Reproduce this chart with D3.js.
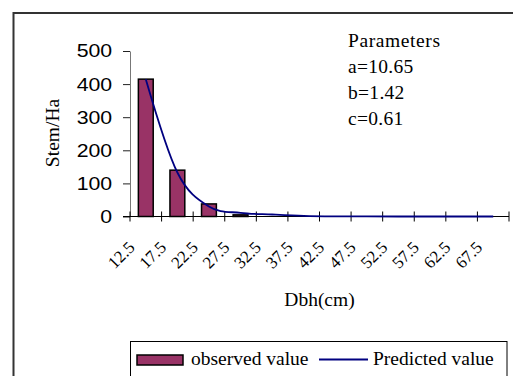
<!DOCTYPE html>
<html>
<head>
<meta charset="utf-8">
<script src="https://cdn.jsdelivr.net/npm/d3@7/dist/d3.min.js"></script>
<style>
  body { margin: 0; background: #fff; }
  svg { display: block; }
</style>
</head>
<body>
<div id="chart"></div>
<script>
// Dbh classes (cm)
const categories = ['12.5', '17.5', '22.5', '27.5', '32.5', '37.5', '42.5', '47.5', '52.5', '57.5', '62.5', '67.5'];
// stems per ha
const observed = [415, 140, 38, 5, 0, 0, 0, 0, 0, 0, 0, 0];
const predicted = [415, 133, 30, 11, 6, 2, 0.5, 0.2, 0, 0, 0, 0];
const yTicks = [0, 100, 200, 300, 400, 500];
const paramLines = ['Parameters', 'a=10.65', 'b=1.42', 'c=0.61'];

const W = 513;
const H = 376;
const serif = '"Liberation Serif", "Times New Roman", serif';
const sans = '"Liberation Sans", Arial, sans-serif';

const svg = d3.select('#chart').append('svg')
  .attr('width', W)
  .attr('height', H);

// outer chart frame (runs off the right and bottom)
svg.append('rect')
  .attr('x', 13.5).attr('y', 13)
  .attr('width', 530).attr('height', 420)
  .attr('fill', 'none')
  .attr('stroke', '#333')
  .attr('stroke-width', 2);

const x = d3.scaleBand()
  .domain(categories)
  .range([130, 509])
  .padding(0);

const y = d3.scaleLinear()
  .domain([0, 500])
  .range([216.5, 51]);

const barW = x.bandwidth() * 0.47;

// bars
svg.selectAll('.bar')
  .data(categories)
  .enter().append('rect')
  .attr('class', 'bar')
  .attr('x', (d) => x(d) + (x.bandwidth() - barW) / 2)
  .attr('y', (d, i) => y(observed[i]))
  .attr('width', barW)
  .attr('height', (d, i) => y(0) - y(observed[i]))
  .attr('fill', '#993366')
  .attr('stroke', '#000')
  .attr('stroke-width', 1.5);

// y axis
const yAxis = svg.append('g')
  .attr('transform', 'translate(130,0)')
  .call(d3.axisLeft(y).tickValues(yTicks).tickSize(7).tickSizeOuter(0));
yAxis.select('.domain').attr('stroke', '#777');
yAxis.selectAll('.tick line').attr('stroke', '#222');
yAxis.selectAll('.tick text')
  .attr('x', -15.5)
  .attr('transform', 'scale(1.15,1)')
  .attr('font-family', sans)
  .attr('font-size', '18.5px')
  .attr('fill', '#000');

// x axis (ticks crossing the line, between categories)
const x0 = y(0);
svg.append('line')
  .attr('x1', 123).attr('x2', x.range()[1])
  .attr('y1', x0).attr('y2', x0)
  .attr('stroke', '#000');
svg.selectAll('.xtick')
  .data(d3.range(categories.length + 1))
  .enter().append('line')
  .attr('class', 'xtick')
  .attr('x1', (i) => x.range()[0] + i * x.step())
  .attr('x2', (i) => x.range()[0] + i * x.step())
  .attr('y1', x0 - 5).attr('y2', x0 + 5)
  .attr('stroke', '#000');

svg.selectAll('.xlabel')
  .data(categories)
  .enter().append('text')
  .attr('class', 'xlabel')
  .attr('transform', (d) => `translate(${x(d) + x.bandwidth() / 2 - 10},${x0 + 32}) rotate(-45)`)
  .attr('text-anchor', 'end')
  .attr('font-family', serif)
  .attr('font-size', '17px')
  .text((d) => d);

// predicted curve (smoothed like the spreadsheet line)
const line = d3.line()
  .x((d, i) => x(categories[i]) + x.bandwidth() / 2)
  .y((d) => y(d))
  .curve(d3.curveCardinal);

svg.append('path')
  .datum(predicted)
  .attr('d', line)
  .attr('fill', 'none')
  .attr('stroke', '#000080')
  .attr('stroke-width', 1.8);

// axis titles
svg.append('text')
  .attr('x', 319.5).attr('y', 306)
  .attr('text-anchor', 'middle')
  .attr('font-family', serif)
  .attr('font-size', '19.5px')
  .text('Dbh(cm)');

svg.append('text')
  .attr('transform', 'translate(59,133) rotate(-90)')
  .attr('text-anchor', 'middle')
  .attr('font-family', serif)
  .attr('font-size', '19.5px')
  .text('Stem/Ha');

// parameters box
svg.selectAll('.param')
  .data(paramLines)
  .enter().append('text')
  .attr('class', 'param')
  .attr('x', 348)
  .attr('y', (d, i) => 47 + i * 26)
  .attr('font-family', serif)
  .attr('font-size', '19.5px')
  .attr('letter-spacing', (d, i) => (i === 0 ? '0.6px' : '0.3px'))
  .text((d) => d);

// legend
const legend = svg.append('g');
legend.append('rect')
  .attr('x', 130.5).attr('y', 341.5)
  .attr('width', 376.5).attr('height', 60)
  .attr('fill', '#fff')
  .attr('stroke', '#000');
legend.append('rect')
  .attr('x', 137).attr('y', 355)
  .attr('width', 46).attr('height', 10)
  .attr('fill', '#993366')
  .attr('stroke', '#000')
  .attr('stroke-width', 1.5);
legend.append('text')
  .attr('x', 191).attr('y', 365)
  .attr('font-family', serif)
  .attr('font-size', '19.5px')
  .text('observed value');
legend.append('line')
  .attr('x1', 319).attr('x2', 368)
  .attr('y1', 359.5).attr('y2', 359.5)
  .attr('stroke', '#000080')
  .attr('stroke-width', 1.8);
legend.append('text')
  .attr('x', 373).attr('y', 365)
  .attr('font-family', serif)
  .attr('font-size', '19.5px')
  .text('Predicted value');
</script>
</body>
</html>
